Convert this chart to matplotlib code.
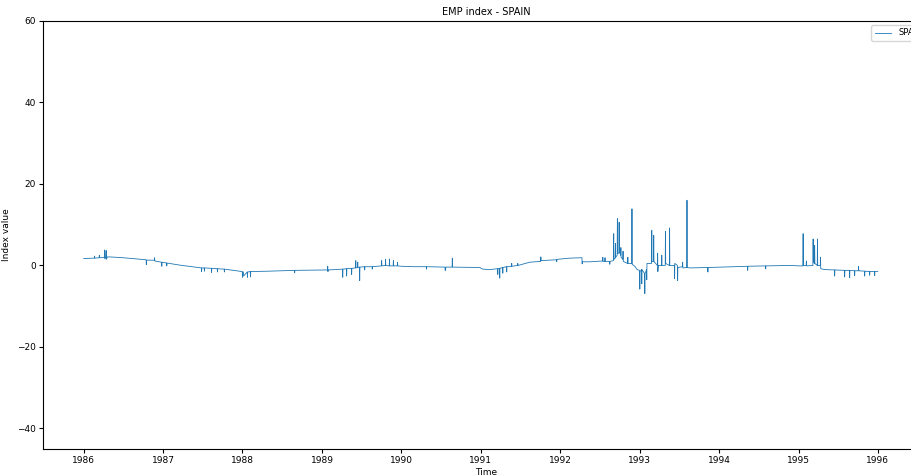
import matplotlib
matplotlib.use("Agg")
import matplotlib.pyplot as plt
import matplotlib.dates as mdates
import pandas as pd

# EMP index for Spain
dates = [
    "1986-01-01", "1986-02-15", "1986-02-19", "1986-02-20", "1986-02-21", "1986-03-13",
    "1986-03-14", "1986-03-15", "1986-04-06", "1986-04-07", "1986-04-08", "1986-04-13",
    "1986-04-14", "1986-04-15", "1986-04-20", "1986-05-01", "1986-07-01", "1986-10-15",
    "1986-10-16", "1986-10-17", "1986-11-22", "1986-11-23", "1986-11-24", "1986-12-25",
    "1986-12-26", "1986-12-27", "1987-01-17", "1987-01-18", "1987-01-19", "1987-03-17",
    "1987-06-26", "1987-06-27", "1987-06-28", "1987-07-09", "1987-07-10", "1987-07-11",
    "1987-08-11", "1987-08-12", "1987-08-13", "1987-09-07", "1987-09-08", "1987-09-09",
    "1987-10-09", "1987-10-10", "1987-10-11", "1987-12-31", "1988-01-01", "1988-01-02",
    "1988-01-05", "1988-01-06", "1988-01-23", "1988-01-24", "1988-01-25", "1988-02-06",
    "1988-02-07", "1988-02-08", "1988-05-01", "1988-08-27", "1988-08-28", "1988-08-29",
    "1989-01-26", "1989-01-27", "1989-01-28", "1989-01-29", "1989-04-05", "1989-04-06",
    "1989-04-07", "1989-04-23", "1989-04-24", "1989-04-25", "1989-05-16", "1989-05-17",
    "1989-05-18", "1989-06-04", "1989-06-05", "1989-06-06", "1989-06-13", "1989-06-14",
    "1989-06-15", "1989-06-22", "1989-06-23", "1989-06-24", "1989-07-15", "1989-07-16",
    "1989-07-17", "1989-08-19", "1989-08-20", "1989-08-21", "1989-10-01", "1989-10-02",
    "1989-10-03", "1989-10-19", "1989-10-20", "1989-10-21", "1989-11-06", "1989-11-07",
    "1989-11-08", "1989-11-24", "1989-11-25", "1989-11-26", "1989-12-13", "1989-12-14",
    "1989-12-15", "1990-01-01", "1990-03-02", "1990-04-25", "1990-04-26", "1990-04-27",
    "1990-07-20", "1990-07-21", "1990-07-23", "1990-07-24", "1990-08-22", "1990-08-23",
    "1990-08-24", "1990-12-27", "1991-01-10", "1991-02-11", "1991-03-19", "1991-03-20",
    "1991-03-21", "1991-03-28", "1991-03-29", "1991-03-30", "1991-04-11", "1991-04-12",
    "1991-04-13", "1991-04-29", "1991-04-30", "1991-05-01", "1991-05-22", "1991-05-23",
    "1991-05-24", "1991-06-19", "1991-06-20", "1991-06-21", "1991-08-14", "1991-10-03",
    "1991-10-04", "1991-10-05", "1991-11-14", "1991-12-15", "1991-12-16", "1991-12-17",
    "1992-02-14", "1992-04-10", "1992-04-11", "1992-04-12", "1992-05-16", "1992-07-14",
    "1992-07-15", "1992-07-16", "1992-07-24", "1992-07-25", "1992-07-26", "1992-08-15",
    "1992-08-16", "1992-08-17", "1992-09-02", "1992-09-03", "1992-09-04", "1992-09-10",
    "1992-09-11", "1992-09-12", "1992-09-19", "1992-09-20", "1992-09-21", "1992-09-27",
    "1992-09-28", "1992-09-29", "1992-10-05", "1992-10-06", "1992-10-07", "1992-10-15",
    "1992-10-16", "1992-10-17", "1992-11-06", "1992-11-07", "1992-11-08", "1992-11-25",
    "1992-11-26", "1992-11-27", "1992-12-09", "1992-12-20", "1992-12-31", "1993-01-01",
    "1993-01-02", "1993-01-09", "1993-01-10", "1993-01-11", "1993-01-23", "1993-01-24",
    "1993-01-25", "1993-02-01", "1993-02-02", "1993-02-03", "1993-02-24", "1993-02-25",
    "1993-02-26", "1993-03-05", "1993-03-06", "1993-03-07", "1993-03-23", "1993-03-24",
    "1993-03-25", "1993-03-27", "1993-04-11", "1993-04-12", "1993-04-13", "1993-04-28",
    "1993-04-29", "1993-04-30", "1993-05-17", "1993-05-18", "1993-05-19", "1993-06-09",
    "1993-06-10", "1993-06-11", "1993-06-23", "1993-06-24", "1993-06-25", "1993-07-16",
    "1993-07-17", "1993-07-18", "1993-08-05", "1993-08-06", "1993-08-07", "1993-08-19",
    "1993-11-09", "1993-11-10", "1993-11-11", "1994-05-11", "1994-05-12", "1994-05-13",
    "1994-08-02", "1994-08-03", "1994-08-04", "1994-11-21", "1995-01-07", "1995-01-21",
    "1995-01-22", "1995-01-23", "1995-02-05", "1995-02-06", "1995-02-07", "1995-03-08",
    "1995-03-09", "1995-03-10", "1995-03-15", "1995-03-16", "1995-03-17", "1995-03-28",
    "1995-03-29", "1995-03-30", "1995-04-11", "1995-04-12", "1995-04-13", "1995-05-01",
    "1995-06-15", "1995-06-16", "1995-06-17", "1995-07-31", "1995-08-01", "1995-08-02",
    "1995-08-23", "1995-08-24", "1995-08-25", "1995-09-15", "1995-09-16", "1995-09-17",
    "1995-10-03", "1995-10-04", "1995-10-05", "1995-10-31", "1995-11-01", "1995-11-02",
    "1995-11-23", "1995-11-24", "1995-11-25", "1995-12-16", "1995-12-17", "1995-12-18",
    "1995-12-31",
]
values = [
    1.7, 1.8, 1.8, 2.3, 1.8, 1.9,
    2.5, 1.9, 2.0, 3.8, 1.6, 2.0,
    3.7, 1.5, 2.1, 2.1, 1.9, 1.4,
    0.2, 1.3, 1.3, 1.9, 1.1, 0.8,
    -0.2, 0.8, 0.6, -0.1, 0.6, 0.1,
    -0.6, -1.5, -0.6, -0.6, -1.4, -0.6,
    -0.7, -1.7, -0.7, -0.8, -1.6, -0.8,
    -0.9, -1.6, -0.9, -1.5, -2.9, -1.6,
    -1.6, -2.6, -1.6, -2.9, -1.6, -1.5,
    -2.8, -1.5, -1.4, -1.2, -1.8, -1.2,
    -1.1, -0.2, -1.5, -1.1, -0.9, -2.9,
    -0.9, -0.8, -2.6, -0.8, -0.7, -2.2,
    -0.7, -0.6, 1.2, -0.6, -0.5, 0.8,
    -0.5, -0.4, -3.7, -0.4, -0.3, -1.1,
    -0.3, -0.3, -0.9, -0.3, -0.1, 1.2,
    -0.1, 0.0, 1.5, 0.0, -0.1, 1.6,
    -0.1, -0.1, 1.2, -0.1, -0.1, 0.8,
    -0.1, -0.2, -0.3, -0.3, -0.9, -0.3,
    -0.4, -1.2, -1.2, -0.4, -0.4, 1.8,
    -0.4, -0.5, -0.9, -1.0, -0.8, -2.2,
    -0.8, -0.7, -3.1, -0.7, -0.5, -1.9,
    -0.5, -0.3, -1.6, -0.3, -0.2, 0.5,
    -0.2, 0.0, 0.5, 0.0, 0.8, 1.0,
    2.1, 1.2, 1.3, 1.4, 0.9, 1.5,
    1.8, 1.9, 0.4, 0.9, 0.9, 1.1,
    2.0, 1.0, 1.0, 1.9, 1.0, 1.0,
    0.3, 1.0, 1.2, 7.8, 1.5, 1.8,
    5.4, 2.0, 2.5, 11.5, 3.0, 3.0,
    10.6, 3.5, 2.5, 4.4, 2.0, 1.5,
    3.5, 1.0, 0.5, 2.0, 0.5, 0.5,
    13.9, 0.3, -0.2, -1.0, -1.2, -5.8,
    -1.5, -1.0, -4.5, -1.0, -2.0, -6.9,
    -2.0, -1.0, -3.5, 0.5, 0.5, 8.6,
    1.0, 1.0, 7.4, 1.0, 0.0, 3.0,
    -1.5, 0.0, 0.0, 2.5, 0.0, 0.0,
    8.4, 0.5, 0.0, 9.2, 0.0, 0.0,
    -3.2, 0.5, 0.0, -3.7, -0.5, -0.3,
    0.8, -0.6, -0.5, 16.0, -0.5, -0.6,
    -0.5, -1.6, -0.5, -0.2, -1.2, -0.2,
    -0.1, -0.8, -0.1, 0.0, -0.1, -0.1,
    7.8, 0.0, 0.0, 1.1, -0.1, 0.0,
    6.5, 1.0, 0.5, 4.9, 0.5, 0.0,
    6.5, 0.0, 0.0, 2.0, -0.8, -1.0,
    -1.1, -2.6, -1.1, -1.2, -2.8, -1.2,
    -1.2, -3.0, -1.2, -1.3, -2.5, -1.3,
    -1.3, -0.2, -1.3, -1.4, -2.6, -1.4,
    -1.5, -2.4, -1.5, -1.5, -2.5, -1.5,
    -1.5,
]

emp = pd.Series(values, index=pd.to_datetime(dates))

plt.rcParams["font.size"] = 6.5

fig = plt.figure(figsize=(9.11, 4.76), dpi=100)
# the reference is cropped on the right, so the axes run past the figure edge
ax = fig.add_axes([0.047, 0.057, 0.974, 0.899])

ax.plot(emp.index, emp.values, color="#1f77b4", linewidth=0.6, label="SPAIN")

ax.set_ylim(-45, 60)
ax.set_yticks([-40, -20, 0, 20, 40, 60])
ax.set_xlim(pd.Timestamp("1985-06-27"), pd.Timestamp("1996-08-28"))
ax.xaxis.set_major_locator(mdates.YearLocator())
ax.xaxis.set_major_formatter(mdates.DateFormatter("%Y"))

ax.set_title("EMP index - SPAIN", fontsize=7, pad=4)
ax.set_xlabel("Time", labelpad=2)
ax.set_ylabel("Index value", labelpad=4)
ax.tick_params(length=3, pad=2)
ax.legend(loc="upper right", fontsize=6)

fig.savefig("out.png", dpi=100)
plt.close(fig)
